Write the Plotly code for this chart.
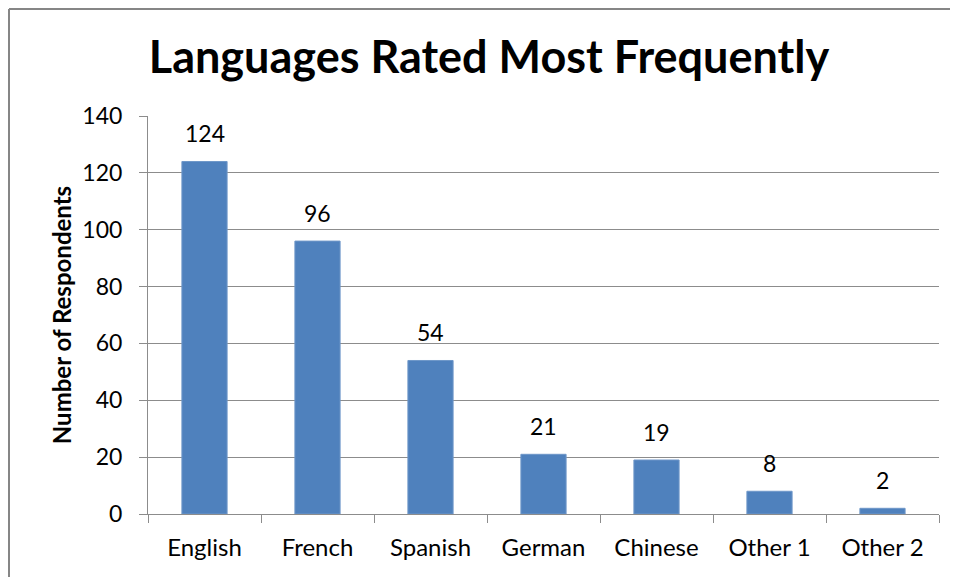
import plotly.graph_objects as go

languages = ["English", "French", "Spanish", "German", "Chinese", "Other 1", "Other 2"]
respondents = [124, 96, 54, 21, 19, 8, 2]
y_ticks = [0, 20, 40, 60, 80, 100, 120, 140]

# page body has an 8px margin, so the figure is sized to fit the window
W, H = 950, 569
L, R, T, B = 140, 19, 108, 63
pw, ph = W - L - R, H - T - B

FONT = "Lato, Carlito, Calibri, sans-serif"
GRID = "#8c8c8c"

fig = go.Figure()
fig.add_trace(go.Bar(
    x=languages,
    y=respondents,
    marker=dict(color="#4f81bd", line=dict(color="#6f97c9", width=1)),
    hoverinfo="x+y",
))

# data labels above each bar
for lang, v in zip(languages, respondents):
    fig.add_annotation(
        x=lang, y=v, text=str(v), showarrow=False,
        yanchor="bottom", yshift=12,
        font=dict(family=FONT, size=23, color="#000000"),
    )

# chart frame (left and top edges only are visible)
fx = (1 - L) / pw
fy = (H - B - 1) / ph
fig.add_shape(type="line", xref="paper", yref="paper",
              x0=fx, x1=fx, y0=-0.3, y1=fy, line=dict(color="#868686", width=2))
fig.add_shape(type="line", xref="paper", yref="paper",
              x0=fx, x1=1.2, y0=fy, y1=fy, line=dict(color="#868686", width=2))

fig.update_layout(
    width=W, height=H,
    margin=dict(l=L, r=R, t=T, b=B),
    paper_bgcolor="white",
    plot_bgcolor="white",
    bargap=0.6,
    showlegend=False,
    title=dict(
        text="<b>Languages Rated Most Frequently</b>",
        x=(481 - L) / pw, xref="paper", xanchor="center",
        y=1 - 49 / H, yref="container", yanchor="middle",
        font=dict(family=FONT, size=45, color="#000000"),
    ),
    font=dict(family=FONT, color="#000000"),
)
fig.update_yaxes(
    range=[0, 140],
    tickvals=y_ticks,
    showgrid=True, gridcolor=GRID, gridwidth=1,
    showline=True, linecolor=GRID, linewidth=1,
    ticks="outside", ticklen=8, tickcolor=GRID,
    ticklabelstandoff=12,
    tickfont=dict(family=FONT, size=23, color="#000000"),
    title=dict(text="<b>Number of Respondents</b>", standoff=3,
               font=dict(family=FONT, size=24, color="#000000")),
    zeroline=False,
)
fig.update_xaxes(
    showline=True, linecolor=GRID, linewidth=1,
    ticks="outside", ticklen=8, tickcolor=GRID,
    tickson="boundaries",
    ticklabelstandoff=12,
    tickfont=dict(family=FONT, size=24, color="#000000"),
)

fig.write_html("out.html")
